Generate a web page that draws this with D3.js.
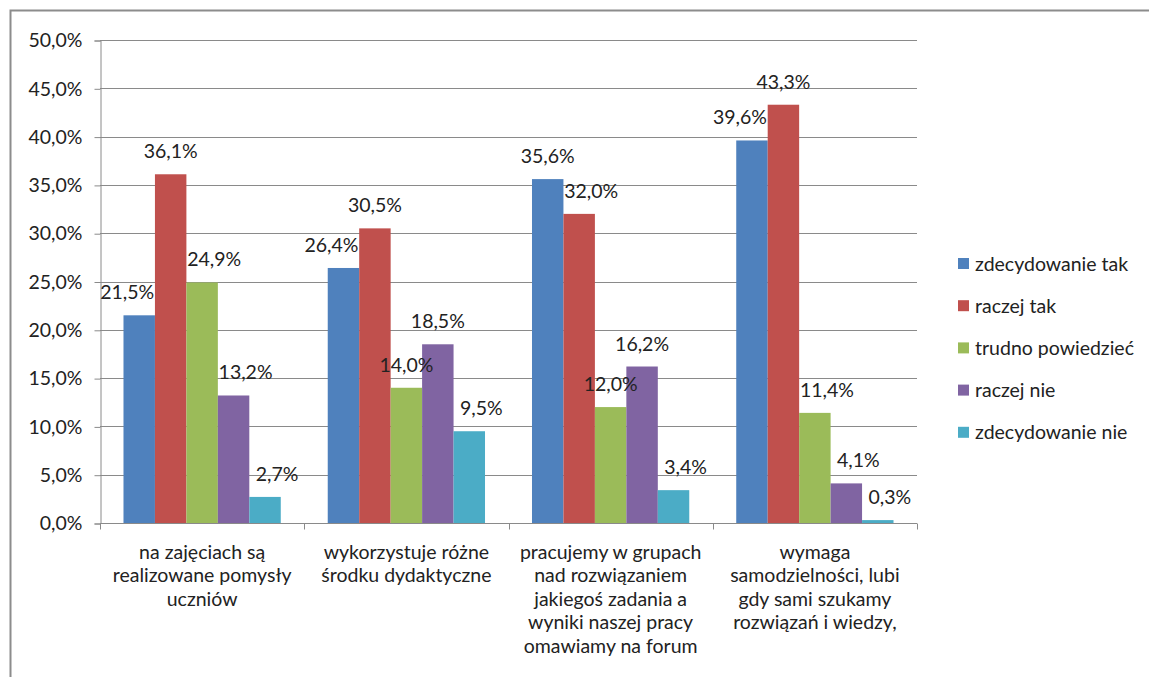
<!DOCTYPE html>
<html><head><meta charset="utf-8">
<script src="https://cdn.jsdelivr.net/npm/d3@7"></script>
<style>body{margin:0;background:#fff}svg{display:block}text{font-family:Lato,"Open Sans",sans-serif;fill:#222}</style>
</head><body><svg id="c" width="1149" height="677"></svg>
<script>
const categories = [
  ["na zajęciach są","realizowane pomysły","uczniów"],
  ["wykorzystuje różne","środku dydaktyczne"],
  ["pracujemy w grupach","nad rozwiązaniem","jakiegoś zadania a","wyniki naszej pracy","omawiamy na forum"],
  ["wymaga","samodzielności, lubi","gdy sami szukamy","rozwiązań i wiedzy,"]
];
const seriesNames = ["zdecydowanie tak","raczej tak","trudno powiedzieć","raczej nie","zdecydowanie nie"];
const zdecydowanieTak = [21.5, 26.4, 35.6, 39.6];
const raczejTak = [36.1, 30.5, 32.0, 43.3];
const trudnoPowiedziec = [24.9, 14.0, 12.0, 11.4];
const raczejNie = [13.2, 18.5, 16.2, 4.1];
const zdecydowanieNie = [2.7, 9.5, 3.4, 0.3];
const yTicks = [0,5,10,15,20,25,30,35,40,45,50];
const colors = ["#4F81BD","#C0504D","#9BBB59","#8064A2","#4BACC6"];

const series = [zdecydowanieTak, raczejTak, trudnoPowiedziec, raczejNie, zdecydowanieNie];
const fmt = v => v.toFixed(1).replace(".", ",") + "%";
const svg = d3.select("#c");
const L = 100, R = 917, T = 40, B = 523;
const FS = "19.5px";

// frame
svg.append("path").attr("d", `M10.5,690 V10.5 H1160`).attr("fill","none").attr("stroke","#8c8c8c").attr("stroke-width",2);

const x0 = d3.scaleBand().domain(d3.range(categories.length)).range([L, R]).paddingInner(0).paddingOuter(0);
const bw = x0.bandwidth();
const x1 = d3.scaleBand().domain(d3.range(series.length)).range([bw*0.115, bw*0.885]).padding(0);
const y = d3.scaleLinear().domain([0, 50]).range([B, T]);

// gridlines
svg.append("g").selectAll("line").data(yTicks.filter(t => t > 0)).join("line")
  .attr("x1", L).attr("x2", R).attr("y1", d => Math.round(y(d))+0.5).attr("y2", d => Math.round(y(d))+0.5)
  .attr("stroke","#8a8a8a").attr("stroke-width",1);

// y axis
const yAxis = d3.axisLeft(y).tickValues(yTicks).tickFormat(d => d.toFixed(1).replace(".", ",") + "%").tickSize(6).tickPadding(12);
const gy = svg.append("g").attr("transform", `translate(${L+0.5},0.5)`).call(yAxis);
gy.select(".domain").attr("stroke","#8a8a8a");
gy.selectAll(".tick line").attr("stroke","#8a8a8a");
gy.selectAll(".tick text").style("font-size",FS).attr("fill","#222").style("font-family","Lato");

// bars
const gBars = svg.append("g");
const labelOffset = 16, shiftPx = 12;
categories.forEach((c, ci) => {
  series.forEach((s, si) => {
    const v = s[ci];
    gBars.append("rect")
      .attr("x", x0(ci) + x1(si)).attr("width", x1.bandwidth())
      .attr("y", y(v)).attr("height", B - y(v)).attr("fill", colors[si]);
  });
});
// labels, nudged away from a taller neighbouring bar (like the spreadsheet's layout)
categories.forEach((c, ci) => {
  series.forEach((s, si) => {
    const v = s[ci];
    const labelBottom = y(v) - labelOffset + 4;
    const leftTaller = si > 0 && y(series[si-1][ci]) < labelBottom;
    const rightTaller = si < series.length-1 && y(series[si+1][ci]) < labelBottom;
    let dx = 0;
    if (leftTaller && !rightTaller) dx = shiftPx;
    else if (rightTaller && !leftTaller) dx = -shiftPx;
    gBars.append("text")
      .attr("x", x0(ci) + x1(si) + x1.bandwidth()/2 + dx).attr("y", y(v) - labelOffset)
      .attr("text-anchor","middle").style("font-size",FS).text(fmt(v));
  });
});

// x axis
const gx = svg.append("g").attr("transform", `translate(0,${B+0.5})`);
gx.append("line").attr("x1", L).attr("x2", R).attr("stroke","#8a8a8a");
gx.selectAll("line.tk").data(d3.range(categories.length+1)).join("line").attr("class","tk")
  .attr("x1", d => Math.round(L + d*bw)+0.5).attr("x2", d => Math.round(L + d*bw)+0.5)
  .attr("y1", 0).attr("y2", 6).attr("stroke","#8a8a8a");
categories.forEach((lines, ci) => {
  const t = gx.append("text").attr("text-anchor","middle").style("font-size",FS)
    .attr("transform", `translate(${x0(ci)+bw/2},35)`);
  lines.forEach((ln, li) => t.append("tspan").attr("x",0).attr("dy", li===0?0:23.5).text(ln));
});

// legend
const lg = svg.append("g").attr("transform","translate(958,264)");
seriesNames.forEach((n, i) => {
  const g = lg.append("g").attr("transform", `translate(0,${i*42.2})`);
  g.append("rect").attr("x",0).attr("y",-6).attr("width",11).attr("height",11).attr("fill",colors[i]);
  g.append("text").attr("x",17).attr("y",6.5).style("font-size",FS).text(n);
});
</script></body></html>
